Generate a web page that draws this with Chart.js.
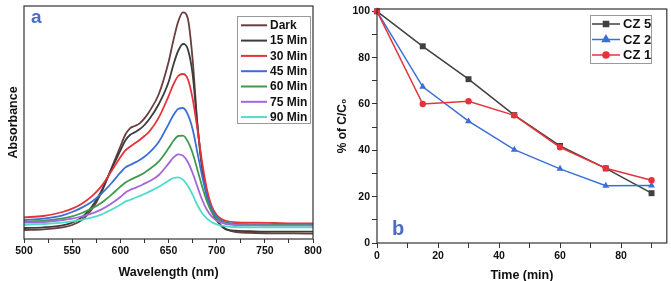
<!DOCTYPE html>
<html><head><meta charset="utf-8">
<script src="https://cdn.jsdelivr.net/npm/chart.js@4.4.0/dist/chart.umd.min.js"></script>
<style>
html,body{margin:0;padding:0;background:#fff;overflow:hidden;width:671px;height:281px;}
#wa{position:absolute;left:0;top:0;width:330px;height:281px;}
#wb{position:absolute;left:335px;top:0;width:336px;height:281px;}
</style></head><body>
<div id="wa"><canvas id="ca"></canvas></div>
<div id="wb"><canvas id="cb"></canvas></div>
<script>
// ---- Panel a: absorbance spectra ----
const wavelengths = [500,520,540,550,560,570,580,590,600,605,610,615,620,625,630,640,650,655,660,665,670,675,680,685,690,695,700,705,710,720,740,760,780,800];
const absDark  = [0.027,0.029,0.035,0.042,0.057,0.087,0.137,0.207,0.277,0.312,0.332,0.339,0.347,0.362,0.382,0.435,0.530,0.595,0.652,0.680,0.662,0.540,0.345,0.210,0.128,0.082,0.057,0.039,0.029,0.021,0.018,0.017,0.017,0.016];
const abs15 = [0.033,0.035,0.041,0.049,0.065,0.095,0.142,0.205,0.265,0.295,0.312,0.320,0.329,0.342,0.359,0.405,0.470,0.522,0.564,0.585,0.570,0.495,0.342,0.214,0.132,0.085,0.057,0.039,0.029,0.025,0.023,0.022,0.022,0.022];
const abs30 = [0.065,0.069,0.081,0.091,0.106,0.127,0.157,0.200,0.245,0.265,0.277,0.287,0.297,0.309,0.322,0.365,0.428,0.463,0.489,0.495,0.480,0.422,0.330,0.228,0.147,0.097,0.072,0.060,0.054,0.050,0.049,0.048,0.047,0.047];
const abs45 = [0.057,0.061,0.071,0.081,0.094,0.111,0.135,0.165,0.199,0.214,0.222,0.229,0.237,0.247,0.259,0.292,0.344,0.371,0.390,0.393,0.374,0.330,0.259,0.188,0.127,0.089,0.067,0.055,0.049,0.045,0.044,0.043,0.043,0.042];
const abs60 = [0.052,0.055,0.062,0.068,0.078,0.091,0.108,0.131,0.157,0.169,0.177,0.184,0.191,0.199,0.209,0.233,0.272,0.294,0.309,0.310,0.293,0.258,0.208,0.157,0.112,0.080,0.062,0.052,0.047,0.044,0.043,0.042,0.042,0.041];
const abs75 = [0.049,0.051,0.057,0.061,0.068,0.076,0.088,0.105,0.126,0.139,0.147,0.153,0.159,0.166,0.173,0.192,0.226,0.244,0.254,0.250,0.231,0.198,0.157,0.117,0.087,0.067,0.055,0.049,0.045,0.042,0.041,0.040,0.040,0.040];
const abs90 = [0.042,0.045,0.049,0.053,0.058,0.064,0.073,0.087,0.103,0.112,0.117,0.123,0.129,0.135,0.142,0.157,0.175,0.183,0.185,0.178,0.160,0.133,0.102,0.077,0.061,0.050,0.044,0.040,0.038,0.036,0.035,0.035,0.035,0.035];
const spectraLabels = ['Dark','15 Min','30 Min','45 Min','60 Min','75 Min','90 Min'];
const spectraColors = ['#6a3e3e','#3c3c3c','#e6333b','#3b6fd4','#3f9a50','#a466d8','#4fdcca'];
const wlTicks = [500,550,600,650,700,750,800];

// ---- Panel b: C/C0 vs time ----
const timeMin = [0,15,30,45,60,75,90];
const cz5 = [100,84.9,70.7,55.2,41.9,32.2,21.5];
const cz2 = [100,67.4,52.6,40.3,32.0,24.7,24.8];
const cz1 = [100,60.0,61.2,55.1,41.3,32.3,27.1];
const kinLabels = ['CZ 5','CZ 2','CZ 1'];
const kinColors = ['#404040','#3b6fd8','#e6333b'];
const kinMarkers = ['rect','triangle','circle'];
const timeTicks = [0,20,40,60,80];
const pctTicks = [0,20,40,60,80,100];

const FAM = "'Liberation Sans', Arial, sans-serif";
const TXT = '#111';

function setTicks(step, from, to) {
  return s => {
    const t = [];
    for (let v = from; v <= to + 1e-9; v += step) t.push({value: Math.round(v * 1000) / 1000});
    s.ticks = t;
  };
}

const framePlugin = {
  id: 'frame',
  afterDatasetsDraw(chart) {
    const {ctx, chartArea: a} = chart;
    ctx.save();
    ctx.strokeStyle = '#333'; ctx.lineWidth = 1.2;
    ctx.strokeRect(a.left, a.top, a.right - a.left, a.bottom - a.top);
    ctx.restore();
  }
};

const decorA = {
  id: 'decorA',
  afterDraw(chart) {
    const ctx = chart.ctx;
    ctx.save();
    ctx.fillStyle = '#4a6cc2';
    ctx.font = 'bold 19px ' + FAM;
    ctx.textBaseline = 'alphabetic';
    ctx.fillText('a', 31, 23);
    ctx.strokeStyle = '#9a9a9a'; ctx.lineWidth = 1;
    ctx.strokeRect(237.5, 16.5, 73, 107);
    ctx.font = 'bold 12px ' + FAM;
    ctx.textBaseline = 'middle';
    spectraLabels.forEach((lab, i) => {
      const y = 25.3 + i * 15.3;
      ctx.strokeStyle = spectraColors[i]; ctx.lineWidth = 2;
      ctx.beginPath(); ctx.moveTo(241, y); ctx.lineTo(267, y); ctx.stroke();
      ctx.fillStyle = TXT;
      ctx.fillText(lab, 270, y + 0.5);
    });
    ctx.restore();
  }
};

const decorB = {
  id: 'decorB',
  afterDraw(chart) {
    const ctx = chart.ctx;
    ctx.save();
    ctx.fillStyle = '#4a6cc2';
    ctx.font = 'bold 20px ' + FAM;
    ctx.textBaseline = 'alphabetic';
    ctx.fillText('b', 57, 235);
    ctx.strokeStyle = '#9a9a9a'; ctx.lineWidth = 1;
    ctx.strokeRect(255.5, 15.5, 61, 48);
    ctx.font = 'bold 13px ' + FAM;
    ctx.textBaseline = 'middle';
    kinLabels.forEach((lab, i) => {
      const y = 24 + i * 15.5;
      ctx.strokeStyle = kinColors[i]; ctx.lineWidth = 1.5;
      ctx.beginPath(); ctx.moveTo(257, y); ctx.lineTo(285, y); ctx.stroke();
      ctx.fillStyle = kinColors[i];
      Chart.helpers.drawPoint(ctx, {pointStyle: kinMarkers[i], radius: i === 1 ? 4 : (i === 0 ? 3.6 : 3), borderWidth: 1}, 271, y);
      ctx.fill();
      ctx.fillStyle = TXT;
      ctx.fillText(lab, 288, y + 0.5);
    });
    ctx.restore();
  }
};

const tickFont = {family: FAM, size: 10.5, weight: 'bold'};
const titleFont = {family: FAM, size: 12.5, weight: 'bold'};

new Chart(document.getElementById('ca'), {
  type: 'line',
  data: {
    datasets: [absDark, abs15, abs30, abs45, abs60, abs75, abs90].map((arr, i) => ({
      label: spectraLabels[i],
      data: wavelengths.map((w, k) => ({x: w, y: arr[k]})),
      borderColor: spectraColors[i],
      borderWidth: 1.8,
      pointRadius: 0,
      cubicInterpolationMode: 'monotone',
      fill: false,
      order: 7 - i
    }))
  },
  options: {
    responsive: true, maintainAspectRatio: false, animation: false, devicePixelRatio: 1,
    layout: {padding: {left: 0, top: 6, right: 17, bottom: 0}},
    plugins: {legend: {display: false}, tooltip: {enabled: false}},
    scales: {
      x: {
        type: 'linear', min: 500, max: 800,
        afterBuildTicks: setTicks(25, 500, 800),
        ticks: {autoSkip: false, maxRotation: 0, color: TXT, font: tickFont, padding: 2,
          callback: v => wlTicks.includes(v) ? String(v) : ''},
        grid: {display: true, drawOnChartArea: false, drawTicks: true, tickLength: 4, color: '#333'},
        border: {display: false},
        title: {display: true, text: 'Wavelength (nm)', color: TXT, font: titleFont, padding: {top: 0, bottom: 1}},
        afterFit: s => { s.height = 42; }
      },
      y: {
        type: 'linear', min: 0, max: 0.699,
        ticks: {display: false},
        grid: {display: false},
        border: {display: false},
        title: {display: true, text: 'Absorbance', color: TXT, font: titleFont, padding: {top: 6, bottom: 0}},
        afterFit: s => { s.width = 24; }
      }
    }
  },
  plugins: [framePlugin, decorA]
});

new Chart(document.getElementById('cb'), {
  type: 'line',
  data: {
    datasets: [cz5, cz2, cz1].map((arr, i) => ({
      label: kinLabels[i],
      data: timeMin.map((t, k) => ({x: t, y: arr[k]})),
      borderColor: kinColors[i],
      backgroundColor: kinColors[i],
      borderWidth: 1.5,
      pointStyle: kinMarkers[i],
      pointRadius: i === 1 ? 4 : (i === 0 ? 4.2 : 3.2),
      pointBorderWidth: 0,
      tension: 0,
      fill: false,
      clip: false,
      order: 3 - i
    }))
  },
  options: {
    responsive: true, maintainAspectRatio: false, animation: false, devicePixelRatio: 1,
    layout: {padding: {left: 0, top: 9, right: 3, bottom: 0}},
    plugins: {legend: {display: false}, tooltip: {enabled: false}},
    scales: {
      x: {
        type: 'linear', min: 0, max: 95,
        afterBuildTicks: setTicks(10, 0, 90),
        ticks: {autoSkip: false, maxRotation: 0, color: TXT, font: tickFont, padding: 2,
          callback: v => timeTicks.includes(v) ? String(v) : ''},
        grid: {display: true, drawOnChartArea: false, drawTicks: true, tickLength: 5, color: '#333'},
        border: {display: false},
        title: {display: true, text: 'Time (min)', color: TXT, font: titleFont, padding: {top: 0, bottom: -2}},
        afterFit: s => { s.height = 38; }
      },
      y: {
        type: 'linear', min: 0, max: 101,
        afterBuildTicks: setTicks(10, 0, 100),
        ticks: {autoSkip: false, color: TXT, font: tickFont, padding: 2,
          callback: v => pctTicks.includes(v) ? String(v) : ''},
        grid: {display: true, drawOnChartArea: false, drawTicks: true, tickLength: 5, color: '#333'},
        border: {display: false},
        title: {display: true, text: '% of C/C\u2080', color: TXT, font: {family: FAM, size: 12, weight: 'bold'}, padding: {top: 0, bottom: 0}},
        afterFit: s => { s.width = 42; }
      }
    }
  },
  plugins: [framePlugin, decorB]
});
</script>
</body></html>
